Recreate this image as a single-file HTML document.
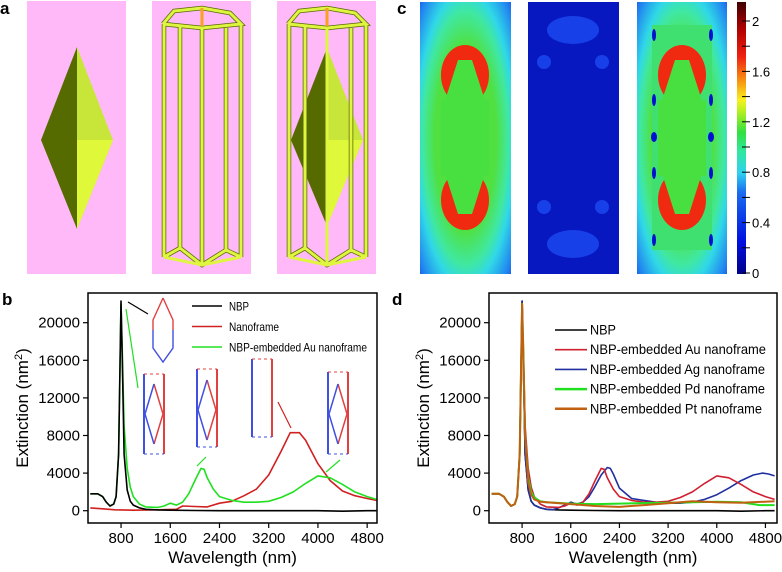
<!DOCTYPE html>
<html><head><meta charset="utf-8"><style>
html,body{margin:0;padding:0;background:#fff}
svg{display:block;font-family:"Liberation Sans",Arial,sans-serif}
</style></head><body>
<svg id="fig" width="782" height="572" viewBox="0 0 782 572" xmlns="http://www.w3.org/2000/svg">
<defs>
<linearGradient id="cbar" x1="0" y1="1" x2="0" y2="0">
<stop offset="0" stop-color="#00008a"/><stop offset="0.12" stop-color="#0010e0"/><stop offset="0.3" stop-color="#1a6cf0"/>
<stop offset="0.37" stop-color="#2fd0f0"/><stop offset="0.45" stop-color="#30e8a0"/><stop offset="0.52" stop-color="#30e040"/>
<stop offset="0.6" stop-color="#b8f020"/><stop offset="0.64" stop-color="#f8f020"/><stop offset="0.7" stop-color="#f8a010"/>
<stop offset="0.8" stop-color="#f02010"/><stop offset="0.9" stop-color="#b00000"/><stop offset="1" stop-color="#400000"/>
</linearGradient>
<radialGradient id="field1" cx="0.5" cy="0.5" r="0.75">
<stop offset="0.45" stop-color="#50e040"/><stop offset="0.62" stop-color="#40e8a0"/><stop offset="0.72" stop-color="#30d8e8"/><stop offset="0.9" stop-color="#2080f0"/><stop offset="1" stop-color="#1040e0"/>
</radialGradient>
</defs>

<g>
<text x="0" y="14" font-size="17" font-weight="bold">a</text>
<rect x="27" y="1" width="99" height="273" fill="#ffb8f8"/>
<polygon points="77,47 41,140 77,229" fill="#556b00"/>
<polygon points="77,47 113,140 77,229" fill="#c8e63a"/>
<polygon points="77,140 113,140 77,229" fill="#e0f83a"/>
<rect x="152" y="1" width="99" height="273" fill="#ffb8f8"/>
<g fill="none" stroke="#556b00" stroke-width="4.5">
<polyline points="163,24 174,11 202,8 230,13 241,24 202,28 163,24"/>
<line x1="164" y1="24" x2="164" y2="257"/><line x1="180" y1="26" x2="180" y2="250"/><line x1="202" y1="28" x2="202" y2="265"/>
<line x1="226" y1="28" x2="226" y2="252"/><line x1="241" y1="24" x2="241" y2="257"/>
<polyline points="164,257 180,248 202,265 226,250 241,257"/>
</g>
<g fill="none" stroke="#dff540" stroke-width="3">
<polyline points="163,24 174,11 202,8 230,13 241,24 202,28 163,24"/>
<line x1="164" y1="24" x2="164" y2="257"/><line x1="180" y1="26" x2="180" y2="250"/><line x1="202" y1="28" x2="202" y2="265"/>
<line x1="226" y1="28" x2="226" y2="252"/><line x1="241" y1="24" x2="241" y2="257"/>
<polyline points="164,257 180,248 202,265 226,250 241,257"/>
<polyline points="164,257 202,265 241,257"/>
</g>
<line x1="202" y1="8" x2="202" y2="26" stroke="#f8a020" stroke-width="3"/>
<rect x="277" y="1" width="99" height="273" fill="#ffb8f8"/>
<polygon points="327,48 291,140 327,226" fill="#556b00"/>
<polygon points="327,48 363,140 327,226" fill="#c8e63a"/>
<polygon points="327,140 363,140 327,226" fill="#e0f83a"/>
<g fill="none" stroke="#556b00" stroke-width="4.5">
<polyline points="288,24 299,11 327,8 355,13 366,24 327,28 288,24"/>
<line x1="289" y1="24" x2="289" y2="257"/><line x1="305" y1="26" x2="305" y2="250"/>
<line x1="351" y1="28" x2="351" y2="252"/><line x1="366" y1="24" x2="366" y2="257"/>
<polyline points="289,257 305,248 327,265 351,250 366,257"/>
</g>
<g fill="none" stroke="#dff540" stroke-width="3">
<polyline points="288,24 299,11 327,8 355,13 366,24 327,28 288,24"/>
<line x1="289" y1="24" x2="289" y2="257"/><line x1="305" y1="26" x2="305" y2="250"/><line x1="327" y1="28" x2="327" y2="265"/>
<line x1="351" y1="28" x2="351" y2="252"/><line x1="366" y1="24" x2="366" y2="257"/>
<polyline points="289,257 305,248 327,265 351,250 366,257"/>
<polyline points="289,257 327,265 366,257"/>
</g>
<line x1="327" y1="8" x2="327" y2="26" stroke="#f8a020" stroke-width="3"/>
</g>

<g>
<text x="397" y="14" font-size="17" font-weight="bold">c</text>
<rect x="420" y="2" width="91" height="272" fill="url(#field1)"/>
<ellipse cx="465" cy="75" rx="24" ry="30" fill="#f02a10"/>
<ellipse cx="465" cy="200" rx="24" ry="30" fill="#f02a10"/>
<rect x="441" y="100" width="48" height="76" fill="#48e040"/>
<polygon points="458,60 472,60 488,110 442,110" fill="#48e040"/>
<polygon points="458,214 472,214 488,164 442,164" fill="#48e040"/>
<rect x="528" y="2" width="91" height="272" fill="#0818c0"/>
<ellipse cx="573" cy="30" rx="26" ry="14" fill="#1840e8"/><ellipse cx="573" cy="244" rx="26" ry="14" fill="#1840e8"/>
<circle cx="544" cy="62" r="7" fill="#1840e8"/><circle cx="602" cy="62" r="7" fill="#1840e8"/>
<circle cx="544" cy="207" r="7" fill="#1840e8"/><circle cx="602" cy="207" r="7" fill="#1840e8"/>
<rect x="637" y="2" width="90" height="272" fill="url(#field1)"/>
<rect x="652" y="25" width="60" height="225" fill="#40e070"/>
<ellipse cx="682" cy="75" rx="24" ry="30" fill="#f02a10"/>
<ellipse cx="682" cy="200" rx="24" ry="30" fill="#f02a10"/>
<rect x="658" y="100" width="48" height="76" fill="#48e040"/>
<polygon points="675,60 689,60 705,110 659,110" fill="#48e040"/>
<polygon points="675,214 689,214 705,164 659,164" fill="#48e040"/>
<g fill="#0010d0"><ellipse cx="654" cy="35" rx="2" ry="6"/><ellipse cx="711" cy="35" rx="2" ry="6"/><ellipse cx="654" cy="100" rx="2" ry="6"/><ellipse cx="711" cy="100" rx="2" ry="6"/><ellipse cx="654" cy="137" rx="3" ry="5"/><ellipse cx="711" cy="137" rx="3" ry="5"/><ellipse cx="654" cy="173" rx="2" ry="6"/><ellipse cx="711" cy="173" rx="2" ry="6"/><ellipse cx="654" cy="240" rx="2" ry="6"/><ellipse cx="711" cy="240" rx="2" ry="6"/></g>
<rect x="737" y="2" width="9" height="272" fill="url(#cbar)"/>
<g id="cbticks"></g>
</g>

<g id="panelB"></g>
<g id="panelD"></g>
</svg>
<script>
const NS="http://www.w3.org/2000/svg";
function mk(parent,tag,attrs,text){const e=document.createElementNS(NS,tag);for(const k in attrs)e.setAttribute(k,attrs[k]);if(text!==undefined)e.textContent=text;parent.appendChild(e);return e;}

const cbTicks=[0,0.2,0.4,0.6,0.8,1.0,1.2,1.4,1.6,1.8,2.0];
const cbLabels=["0","0.4","0.8","1.2","1.6","2"];
const cbG=document.getElementById('cbticks');
const cbY=v=>273-v*126;
cbTicks.forEach(v=>{const t=mk(cbG,'line',{x1:742,x2:750,y1:cbY(v),y2:cbY(v),stroke:'#000','stroke-width':1});

});
cbLabels.forEach(s=>{const t=mk(cbG,'text',{x:752,y:cbY(+s)+5,'font-size':13},s);

});

const xTicks=[800,1600,2400,3200,4000,4800];
const yTicks=[0,4000,8000,12000,16000,20000];
const nbpX=[300,420,500,560,620,680,720,760,780,800,820,850,900,950,1000,1100,1200,1400,1600,2000,2400,3200,4000,4400,4800,4950];
const nbpY=[1800,1800,1500,900,500,700,1500,6000,14000,22300,16000,6000,2200,1000,600,300,150,80,50,20,0,0,0,-50,0,0];
const bAuX=[300,420,500,560,620,680,720,760,780,800,820,850,900,950,1000,1100,1200,1400,1500,1600,1700,1800,1900,2000,2100,2150,2200,2300,2400,2600,2800,3000,3200,3400,3600,3800,4000,4200,4400,4600,4800,4950];
const bAuY=[1800,1800,1500,900,500,700,1500,6000,14000,22000,17000,9000,4500,2500,1500,700,400,350,500,800,600,900,1800,3200,4500,4400,3500,2300,1500,1100,900,900,1000,1400,2000,2900,3700,3500,2800,2000,1500,1200];
const bNfX=[300,500,700,1000,1400,1700,1800,2000,2200,2400,2600,2800,3000,3200,3400,3550,3700,3800,4000,4200,4400,4600,4800,4950];
const bNfY=[300,200,100,50,100,150,500,450,400,800,1000,1600,2300,3800,6300,8300,8300,7500,5000,3200,2100,1600,1300,1100];
const dAgX=[300,420,500,560,620,680,720,760,780,800,820,850,900,950,1000,1100,1200,1300,1400,1500,1600,1700,1800,1900,2000,2100,2200,2250,2300,2400,2600,2800,3000,3200,3400,3600,3800,4000,4200,4400,4600,4750,4850,4950];
const dAgY=[1800,1800,1500,900,500,700,1500,6000,14000,22300,16000,6000,2200,1000,600,300,150,100,300,600,900,700,900,1500,2600,3800,4600,4500,3900,2400,1300,1100,900,800,800,900,1200,1700,2400,3200,3800,4000,3900,3700];
const dPdX=[300,420,500,560,620,680,720,760,780,800,820,850,900,950,1000,1100,1200,1600,2000,2400,3200,4000,4400,4700,4950];
const dPdY=[1800,1800,1500,900,500,700,1500,6000,14000,22000,17000,8000,3500,2000,1400,1000,900,750,700,750,850,950,900,600,600];
const dPtX=[300,420,500,560,620,680,720,760,780,800,820,850,900,950,1000,1100,1200,1600,2000,2400,2800,3200,3600,4000,4400,4950];
const dPtY=[1800,1800,1500,900,500,700,1500,6000,14000,22000,17000,8000,3000,1700,1200,950,900,700,500,400,600,800,1000,900,850,1000];

function panel(id,label,box,xr,legend,legX,legY0,legDy,series){
  const g=document.getElementById(id);
  const [L,T,R,B]=box;
  const xs=v=>L+(v-xr[0])/(xr[1]-xr[0])*(R-L);
  const ys=v=>510.7-v*188/20000;
  const lab=mk(g,'text',{x:label[1],y:305,'font-size':17,'font-weight':'bold'},label[0]);
  
  
  xTicks.forEach(v=>{const t=mk(g,'line',{x1:xs(v),x2:xs(v),y1:B,y2:B+5,stroke:'#000','stroke-width':1.2});
    
    
    const l=mk(g,'text',{x:xs(v),y:B+20,'font-size':15,'text-anchor':'middle'},String(v));
    
    });
  yTicks.forEach(v=>{const t=mk(g,'line',{x1:L-5,x2:L,y1:ys(v),y2:ys(v),stroke:'#000','stroke-width':1.2});
    
    
    const l=mk(g,'text',{x:L-8,y:ys(v)+5,'font-size':15,'text-anchor':'end'},String(v));
    
    });
  const xt=mk(g,'text',{x:(L+R)/2,y:563,'font-size':17,'text-anchor':'middle'},'Wavelength (nm)');
  
  
  const yt=mk(g,'text',{x:0,y:0,'font-size':17,'text-anchor':'middle',transform:`translate(${L-60},${(T+B)/2}) rotate(-90)`});
  yt.innerHTML='Extinction (nm<tspan dy="-6" font-size="11">2</tspan><tspan dy="6">)</tspan>';
  
  
  const clipId=id+'clip';
  const cp=mk(mk(g,'defs',{}),'clipPath',{id:clipId});mk(cp,'rect',{x:L,y:T,width:R-L,height:B-T});
  series.forEach(s=>{
    const pts=s.x.map((v,i)=>xs(v).toFixed(1)+','+ys(s.y[i]).toFixed(1)).join(' ');
    const p=mk(g,'polyline',{points:pts,fill:'none',stroke:s.c,'stroke-width':s.w||1.6,'stroke-linejoin':'round','clip-path':`url(#${clipId})`});
    
    
  });
  const fr=mk(g,'rect',{x:L,y:T,width:R-L,height:B-T,fill:'none',stroke:'#000','stroke-width':1.5});
  
  
  legend.forEach((e,i)=>{
    const y=legY0+i*legDy;
    const l=mk(g,'line',{x1:legX,x2:legX+e.sw,y1:y,y2:y,stroke:e.c,'stroke-width':e.w||1.6});
    
    
    const t=mk(g,'text',{x:e.tx,y:y+4.5,'font-size':e.fs,textLength:e.tl,lengthAdjust:'spacingAndGlyphs'},e.t);
    
    
  });
  return {g,xs,ys};
}

const pb=panel('panelB',['b',2],[88,293,377,523],[263,4960],
 [{c:'#000',t:'NBP',fs:12,sw:30,tx:229,tl:20},{c:'#d02020',t:'Nanoframe',fs:12,sw:30,tx:229,tl:50},{c:'#20e020',t:'NBP-embedded Au nanoframe',fs:12,sw:30,tx:229,tl:138}],192,306,20.5,
 [{x:bNfX,y:bNfY,c:'#d02020',n:'nanoframe-line'},{x:bAuX,y:bAuY,c:'#20e020',n:'embedded-au-line'},{x:nbpX,y:nbpY,c:'#000',n:'nbp-line'}]);
const pd=panel('panelD',['d',392],[489,293,777,523],[256,4990],
 [{c:'#000',t:'NBP',fs:14,sw:32,tx:590,tl:26},{c:'#d02030',t:'NBP-embedded Au nanoframe',fs:14,sw:32,tx:590,tl:176},{c:'#2030a0',t:'NBP-embedded Ag nanoframe',fs:14,sw:32,tx:590,tl:175},{c:'#20e020',t:'NBP-embedded Pd nanoframe',fs:14,w:2.5,sw:32,tx:590,tl:175},{c:'#c06010',t:'NBP-embedded Pt nanoframe',fs:14,w:2.5,sw:32,tx:590,tl:172}],555,330,19.7,
 [{x:nbpX,y:nbpY,c:'#000',n:'nbp-line'},{x:dAgX,y:dAgY,c:'#2030a0',n:'ag-line'},{x:bAuX,y:bAuY,c:'#d02030',n:'au-line'},{x:dPdX,y:dPdY,c:'#20e020',n:'pd-line',w:2},{x:dPtX,y:dPtY,c:'#c06010',n:'pt-line',w:2}]);

const gb=pb.g;
function diamond(cx,cy,w,h){mk(gb,'path',{d:`M${cx},${cy-h} L${cx+w},${cy} L${cx},${cy+h}`,fill:'none',stroke:'#e04040','stroke-width':1.5});
 mk(gb,'path',{d:`M${cx},${cy-h} L${cx-w},${cy} L${cx},${cy+h}`,fill:'none',stroke:'#4050e0','stroke-width':1.5});}
function frame(cx,top,bot,w){mk(gb,'line',{x1:cx-w,x2:cx-w,y1:top,y2:bot,stroke:'#4050e0','stroke-width':2});
 mk(gb,'line',{x1:cx+w,x2:cx+w,y1:top,y2:bot,stroke:'#e04040','stroke-width':2});
 mk(gb,'line',{x1:cx-w,x2:cx+w,y1:top,y2:top,stroke:'#e04040','stroke-width':1,'stroke-dasharray':'3,3'});
 mk(gb,'line',{x1:cx-w,x2:cx+w,y1:bot,y2:bot,stroke:'#4050e0','stroke-width':1,'stroke-dasharray':'3,3'});}
mk(gb,'polyline',{points:'163,298 173,320 173,330',fill:'none',stroke:'#e04040','stroke-width':1.4});
mk(gb,'polyline',{points:'163,298 153,320 153,330',fill:'none',stroke:'#e04040','stroke-width':1.4});
mk(gb,'polyline',{points:'153,330 153,348 163,362 173,348 173,330',fill:'none',stroke:'#4050e0','stroke-width':1.4});
frame(154,374,454,10);diamond(154,414,9,30);
frame(207,369,447,10);diamond(207,410,9,30);
frame(262,359,437,10);
frame(338,372,454,10);diamond(338,414,9,30);
mk(gb,'line',{x1:128,y1:302,x2:148,y2:314,stroke:'#000','stroke-width':1.2});
mk(gb,'line',{x1:126,y1:309,x2:138,y2:388,stroke:'#20e020','stroke-width':1.2});
mk(gb,'line',{x1:197,y1:466,x2:206,y2:457,stroke:'#20e020','stroke-width':1.2});
mk(gb,'line',{x1:291,y1:428,x2:278,y2:402,stroke:'#d02020','stroke-width':1.2});
mk(gb,'line',{x1:326,y1:472,x2:340,y2:460,stroke:'#20e020','stroke-width':1.2});
</script>
</body></html>
